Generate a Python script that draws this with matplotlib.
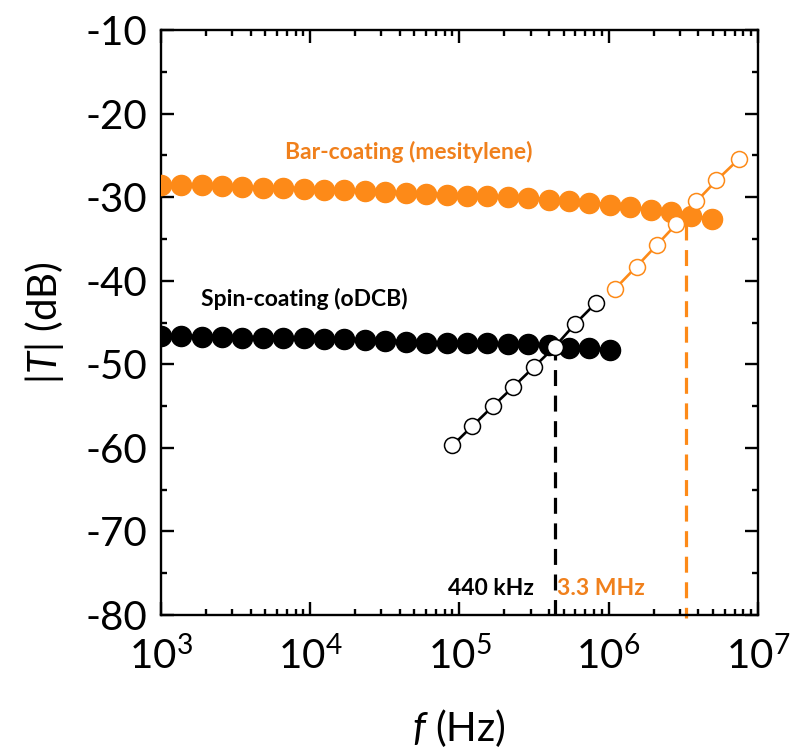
import matplotlib
matplotlib.use("Agg")
import matplotlib.pyplot as plt
from matplotlib.ticker import LogLocator, MultipleLocator, NullFormatter

# ---------------------------------------------------------------------------
# Data
# ---------------------------------------------------------------------------
f_bar = [1.00e3, 1.37e3, 1.88e3, 2.57e3, 3.52e3, 4.83e3, 6.61e3, 9.06e3,
         1.24e4, 1.70e4, 2.33e4, 3.19e4, 4.37e4, 5.99e4, 8.21e4, 1.12e5,
         1.54e5, 2.11e5, 2.89e5, 3.96e5, 5.43e5, 7.44e5, 1.02e6, 1.40e6,
         1.91e6, 2.62e6, 3.59e6, 4.92e6]
T_bar = [-28.5, -28.6, -28.6, -28.7, -28.8, -28.9, -28.9, -29.0,
         -29.1, -29.2, -29.3, -29.4, -29.5, -29.6, -29.7, -29.8,
         -29.9, -30.0, -30.1, -30.3, -30.5, -30.7, -30.9, -31.2,
         -31.5, -31.8, -32.3, -32.6]

f_bar_open = [1.10e6, 1.54e6, 2.11e6, 2.85e6, 3.88e6, 5.28e6, 7.50e6]
T_bar_open = [-41.0, -38.3, -35.7, -33.2, -30.5, -28.0, -25.4]

f_spin = [1.00e3, 1.37e3, 1.88e3, 2.57e3, 3.52e3, 4.83e3, 6.61e3, 9.06e3,
          1.24e4, 1.70e4, 2.33e4, 3.19e4, 4.37e4, 5.99e4, 8.21e4, 1.12e5,
          1.54e5, 2.11e5, 2.89e5, 3.96e5, 5.43e5, 7.44e5, 1.02e6]
T_spin = [-46.6, -46.6, -46.7, -46.7, -46.8, -46.8, -46.9, -46.9,
          -47.0, -47.0, -47.1, -47.2, -47.3, -47.4, -47.5, -47.5,
          -47.5, -47.6, -47.6, -47.7, -48.0, -48.1, -48.3]

f_spin_open = [9.0e4, 1.22e5, 1.68e5, 2.30e5, 3.17e5, 4.36e5, 5.94e5, 8.18e5]
T_spin_open = [-59.7, -57.4, -55.0, -52.7, -50.3, -47.9, -45.2, -42.7]

f_cut = [4.4e5, 3.3e6]          # crossing frequencies
T_cut = [-47.6, -33.2]
cut_labels = ["440 kHz", "3.3 MHz"]

ORANGE = "#FD8A18"
ORANGE_TXT = "#F0801C"
FONT = "Lato"

plt.rcParams.update({
    "font.family": FONT,
    "mathtext.fontset": "custom",
    "mathtext.rm": FONT,
    "mathtext.it": f"{FONT}:italic",
    "mathtext.bf": f"{FONT}:bold",
    "axes.unicode_minus": False,
})

fig = plt.figure(figsize=(8.0, 7.55), dpi=100)
ax = fig.add_axes([0.201, 0.1854, 0.7463, 0.7748])

# dashed drop lines (behind the markers)
ax.plot([f_cut[0]] * 2, [T_cut[0], -80], color="black", lw=2.3,
        ls=(0, (5, 3)), zorder=1)
ax.plot([f_cut[1]] * 2, [T_cut[1], -80.4], color=ORANGE, lw=2.3,
        ls=(0, (5, 3)), zorder=1, clip_on=False)

# filled series
ax.plot(f_bar, T_bar, "-o", color=ORANGE, lw=2.8, ms=14.5,
        mec=ORANGE, mfc=ORANGE, zorder=3)
ax.plot(f_spin, T_spin, "-o", color="black", lw=2.8, ms=14.5,
        mec="black", mfc="black", zorder=3)

# open series
ax.plot(f_bar_open, T_bar_open, "-o", color=ORANGE, lw=1.9, ms=11.5,
        mec=ORANGE, mfc="white", mew=1.1, zorder=4)
ax.plot(f_spin_open, T_spin_open, "-o", color="black", lw=1.9, ms=11.5,
        mec="black", mfc="white", mew=1.1, zorder=4)

ax.set_xscale("log")
ax.set_xlim(1e3, 1e7)
ax.set_ylim(-80, -10)
ax.yaxis.set_major_locator(MultipleLocator(10))
ax.yaxis.set_minor_locator(MultipleLocator(5))
ax.xaxis.set_major_locator(LogLocator(base=10, numticks=10))
ax.xaxis.set_minor_locator(LogLocator(base=10, subs=range(2, 10), numticks=20))
ax.xaxis.set_minor_formatter(NullFormatter())

for s in ax.spines.values():
    s.set_linewidth(1.7)
ax.tick_params(which="both", direction="in", top=True, right=True,
               width=1.7, labelsize=29)
ax.tick_params(which="major", length=9.5)
ax.tick_params(which="minor", length=4.5)
ax.tick_params(axis="y", pad=10)
ax.tick_params(axis="x", pad=15)

ax.set_xlabel(r"$f$ (Hz)", fontsize=29, labelpad=22)
ax.set_ylabel(r"|$T$| (dB)", fontsize=29, labelpad=14)

# annotations
ax.text(4.6e4, -24.6, "Bar-coating (mesitylene)", color=ORANGE_TXT,
        fontsize=16.5, fontweight="bold", ha="center", va="center")
ax.text(9.2e3, -42.2, "Spin-coating (oDCB)", color="black",
        fontsize=16.5, fontweight="bold", ha="center", va="center")
ax.text(f_cut[0] / 1.4, -76.8, cut_labels[0], color="black",
        fontsize=16.5, fontweight="bold", ha="right", va="center")
ax.text(f_cut[0] * 1.02, -76.8, cut_labels[1], color=ORANGE_TXT,
        fontsize=16.5, fontweight="bold", ha="left", va="center")

fig.savefig("out.png", dpi=100)
